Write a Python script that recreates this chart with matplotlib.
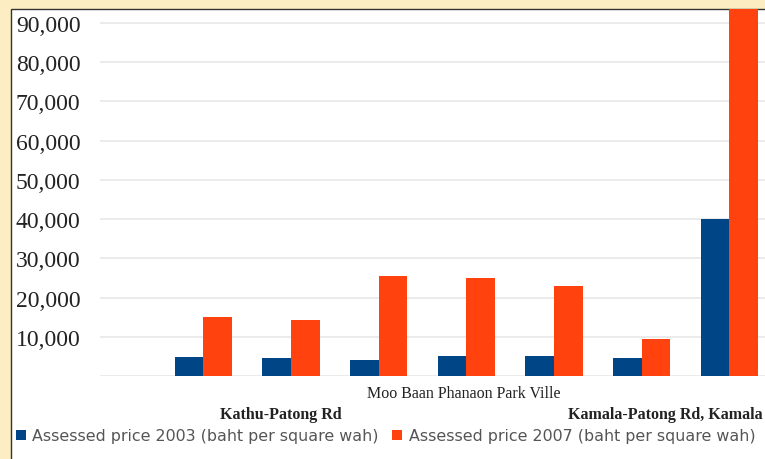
import matplotlib
matplotlib.use("Agg")
import matplotlib.pyplot as plt
from matplotlib.patches import Rectangle
import numpy as np

# ---- data ----
categories = ["", "Kathu-Patong Rd", "", "Moo Baan Phanaon Park Ville", "", "", "Kamala-Patong Rd, Kamala"]
price_2003 = [4800, 4500, 4000, 5000, 5000, 4500, 40000]
price_2007 = [15000, 14300, 25500, 25000, 23000, 9500, 100000]
series_names = ["Assessed price 2003 (baht per square wah)",
                "Assessed price 2007 (baht per square wah)"]
y_ticks = [0, 10000, 20000, 30000, 40000, 50000, 60000, 70000, 80000, 90000]
y_tick_labels = ["", "10,000", "20,000", "30,000", "40,000", "50,000",
                 "60,000", "70,000", "80,000", "90,000"]

BLUE = "#004586"
ORANGE = "#ff420e"
CREAM = "#fdedc2"
W, H = 765, 460

fig = plt.figure(figsize=(W / 100, H / 100), dpi=100)
fig.patch.set_facecolor(CREAM)

# white chart frame
fig.add_artist(Rectangle((10.5 / W, -0.1), 1.2, (H - 9.5) / H + 0.1,
                         transform=fig.transFigure, facecolor="white",
                         edgecolor="#333333", linewidth=1.0, zorder=0))

ax_left, ax_right, ax_top, ax_zero = 100, 765, 10, 377
ax = fig.add_axes([ax_left / W, (H - ax_zero) / H,
                   (ax_right - ax_left) / W, (ax_zero - ax_top) / H])
ax.set_facecolor("none")

x = np.arange(len(categories))
bw = 0.327
ax.bar(x - bw / 2, price_2003, width=bw, color=BLUE, zorder=3)
ax.bar(x + bw / 2, price_2007, width=bw, color=ORANGE, zorder=3)

ax.set_xlim(-1.178, 6.405)
ax.set_ylim(0, 93575)

ax.set_yticks(y_ticks, y_tick_labels)
for lab in ax.get_yticklabels():
    lab.set_fontfamily("Liberation Serif")
    lab.set_fontsize(17)
    lab.set_color("#222222")
    lab.set_horizontalalignment("left")
    lab.set_verticalalignment("center_baseline")
ax.tick_params(axis="y", length=0, pad=60.5)
ax.set_xticks([])
ax.grid(axis="y", color="#e9e9e9", linewidth=1.3, zorder=0)
for s in ax.spines.values():
    s.set_visible(False)

# category labels (staggered rows as in the original)
label_style = {
    1: dict(dy=-42, dx=-7, weight="bold"),
    3: dict(dy=-21, dx=-2, weight="normal"),
    6: dict(dy=-42, dx=-46, weight="bold"),
}
for i, name in enumerate(categories):
    if not name:
        continue
    st = label_style[i]
    ax.annotate(name, xy=(x[i], 0), xycoords="data",
                xytext=(st["dx"], st["dy"] * 0.72), textcoords="offset points",
                ha="center", va="baseline", fontsize=11.5,
                fontfamily="Liberation Serif", fontweight=st["weight"],
                color="#222222", annotation_clip=False)

handles = [Rectangle((0, 0), 1, 1, facecolor=BLUE, edgecolor="none"),
           Rectangle((0, 0), 1, 1, facecolor=ORANGE, edgecolor="none")]
leg = fig.legend(handles, series_names, loc="center left",
                 bbox_to_anchor=(16 / W, 1 - 437 / H), ncol=2, frameon=False,
                 handlelength=0.62, handleheight=0.62, handletextpad=0.42,
                 columnspacing=0.85, borderpad=0, borderaxespad=0,
                 prop=dict(family="DejaVu Sans", size=11.4))
for t in leg.get_texts():
    t.set_color("#555555")

fig.savefig("out.png", dpi=100, facecolor=CREAM)
